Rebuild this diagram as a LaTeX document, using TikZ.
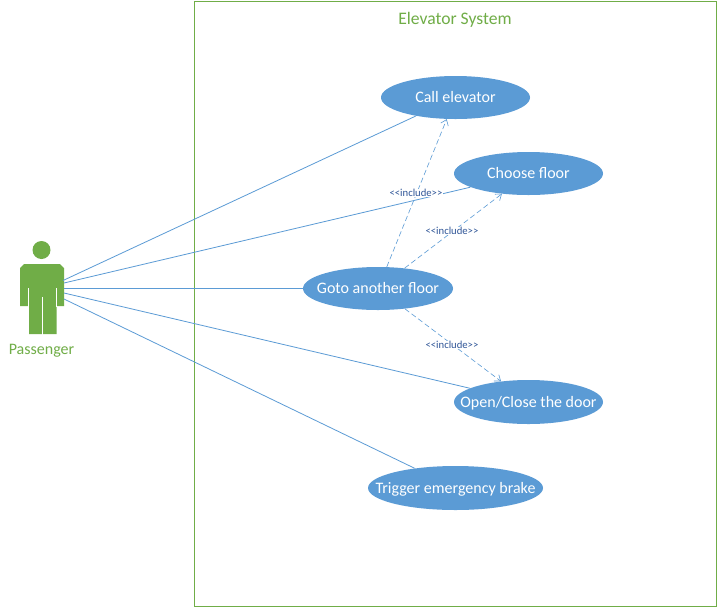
\documentclass[tikz,border=0pt]{standalone}
\usepackage{fontspec}
\setmainfont{Carlito}
\usetikzlibrary{arrows.meta,shapes.geometric}
\definecolor{ugreen}{HTML}{70AD47}
\definecolor{ublue}{HTML}{5B9BD5}
\definecolor{ulabel}{HTML}{2F5597}
\tikzset{
  usecase/.style={ellipse,fill=ublue,text=white,inner sep=-30pt,text height=9.5pt,text depth=2pt,font=\fontsize{12}{14}\selectfont},
  assoc/.style={draw=ublue,line width=0.6pt},
  incl/.style={draw=ublue,line width=0.45pt,dash pattern=on 4pt off 2.2pt,-{Straight Barb[length=4pt,width=6pt,line width=0.45pt]}},
  incllabel/.style={fill=white,inner sep=0.4pt,text=ulabel,font=\fontsize{8}{9}\selectfont},
  greentext/.style={text=ugreen,inner sep=0pt,font=\fontsize{12}{14}\selectfont}
}
\begin{document}
\begin{tikzpicture}[x=0.75pt,y=-0.75pt]
\useasboundingbox (0,0) rectangle (718,608);
\fill[white] (0,0) rectangle (718,608);
\node[draw=ugreen,line width=0.6pt,minimum width=391.5pt,minimum height=453.75pt,inner sep=0pt] (frame) at (455,303.5) {};
\node[greentext,font=\fontsize{13.2}{15}\selectfont] (title) at (455,19.5) {Elevator System};
% use cases
\node[usecase,minimum width=111.75pt,minimum height=32.25pt] (call) at (455.5,97.5) {Call elevator};
\node[usecase,minimum width=111.75pt,minimum height=32.25pt] (choose) at (528.5,173.5) {Choose floor};
\node[usecase,minimum width=112.5pt,minimum height=32.25pt] (goto) at (378,288.5) {Goto another floor};
\node[usecase,minimum width=111.75pt,minimum height=33pt] (open) at (528.5,402) {Open/Close the door};
\node[usecase,minimum width=131.25pt,minimum height=33pt] (brake) at (455.5,488) {Trigger emergency brake};
% actor
\fill[ugreen] (41.5,250) circle (9);
\fill[ugreen] (20,306) -- (20,268) -- (24,264) -- (60,264) -- (64,268) -- (64,306) -- (56.5,306) -- (56.5,334) -- (29,334) -- (29,306) -- cycle;
\draw[white,line width=0.6pt] (28.5,288) -- (28.5,306.5) (56.5,288) -- (56.5,306.5) (42,297) -- (42,334.5);
\node[greentext] (passenger) at (41.5,351) {Passenger};
\coordinate (a1) at (63,280.5);
\coordinate (a2) at (64,283);
\coordinate (a3) at (64,288.5);
\coordinate (a4) at (64,293);
\coordinate (a5) at (64,299);
% associations
\draw[assoc] (a1) -- (call);
\draw[assoc] (a2) -- (choose);
\draw[assoc] (a3) -- (goto);
\draw[assoc] (a4) -- (open);
\draw[assoc] (a5) -- (brake);
% includes
\draw[incl] (goto) -- (call);
\draw[incl] (goto) -- (choose);
\draw[incl] (goto) -- (open);
\node[incllabel] (l1) at (416,193) {<{}<include>{}>};
\node[incllabel] (l2) at (452,231) {<{}<include>{}>};
\node[incllabel] (l3) at (452,345) {<{}<include>{}>};
\end{tikzpicture}
\end{document}
